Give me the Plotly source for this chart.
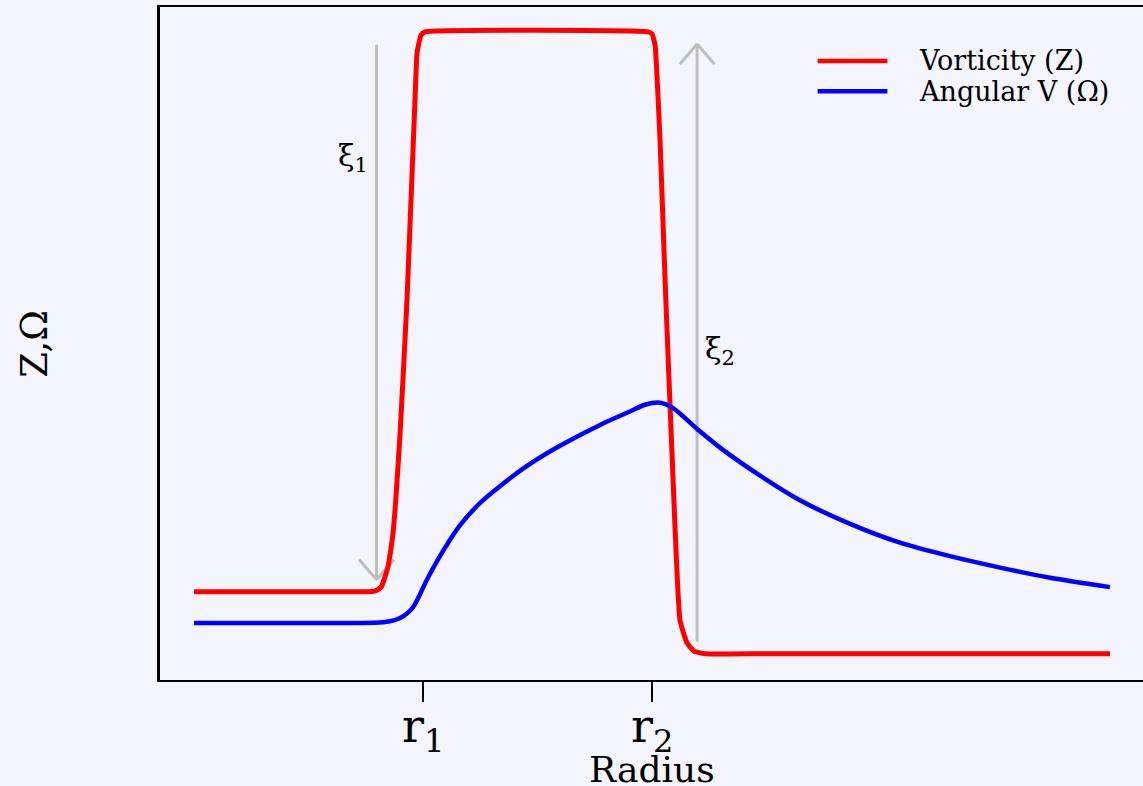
import plotly.graph_objects as go

# Vorticity profile Z(r): flat core, steep rise at r1, plateau, steep drop at r2
radius_z = [0.0, 0.725, 0.790, 0.817, 0.847, 0.869, 0.900, 0.930, 0.965, 0.974,
            0.991, 1.009, 1.983, 2.000, 2.013, 2.035, 2.057, 2.092, 2.122, 2.153,
            2.183, 2.231, 2.5, 4.0]
vorticity = [0.131, 0.131, 0.132, 0.138, 0.168, 0.218, 0.367, 0.565, 0.862, 0.932,
             0.958, 0.963, 0.963, 0.960, 0.944, 0.802, 0.594, 0.297, 0.089, 0.055,
             0.043, 0.039, 0.039, 0.039]

# Angular velocity profile Omega(r)
radius_w = [0.0, 0.463, 0.834, 0.900, 0.956, 1.017, 1.074, 1.162, 1.249, 1.336,
            1.467, 1.598, 1.773, 1.904, 1.969, 2.035, 2.092, 2.197, 2.310, 2.502,
            2.646, 2.865, 3.083, 3.301, 3.520, 3.738, 4.0]
angular = [0.0847, 0.0847, 0.0862, 0.0921, 0.108, 0.149, 0.184, 0.230, 0.263, 0.288,
           0.321, 0.348, 0.379, 0.399, 0.409, 0.412, 0.404, 0.373, 0.342, 0.297,
           0.267, 0.232, 0.204, 0.184, 0.167, 0.152, 0.138]

tick_vals = [1, 2]
tick_text = ["r<sub>1</sub>", "r<sub>2</sub>"]

series_names = ["Vorticity (Z)", "Angular V (\u03a9)"]
series_colors = ["#FF0000", "#0000FF"]

# Jump arrows: (x, y_start, y_end, label)
jump_arrows = [
    (0.797, 0.944, 0.149, "\u03be<sub>1</sub>"),
    (2.197, 0.057, 0.945, "\u03be<sub>2</sub>"),
]

SERIF = "DejaVu Serif"
BG = "#F4F4FD"
GREY = "#BEBEBE"

fig = go.Figure()
fig.add_trace(go.Scatter(x=radius_z, y=vorticity, mode="lines", name=series_names[0],
                         line=dict(color=series_colors[0], width=5, shape="spline",
                                   smoothing=0.4),
                         showlegend=False))
fig.add_trace(go.Scatter(x=radius_w, y=angular, mode="lines", name=series_names[1],
                         line=dict(color=series_colors[1], width=4.5, shape="spline",
                                   smoothing=0.8),
                         showlegend=False))

shapes = []
annotations = []
arm_dx, arm_dy = 0.076, 0.030
for ax, y0, y1, label in jump_arrows:
    line_style = dict(color=GREY, width=3)
    shapes.append(dict(type="line", xref="x", yref="y", x0=ax, x1=ax, y0=y0, y1=y1,
                       line=line_style, layer="below"))
    back = arm_dy if y1 < y0 else -arm_dy
    for sgn in (-1, 1):
        shapes.append(dict(type="line", xref="x", yref="y", x0=ax, y0=y1,
                           x1=ax + sgn * arm_dx, y1=y1 + back,
                           line=line_style, layer="below"))

# ξ labels beside the arrows
annotations.append(dict(x=jump_arrows[0][0] - 0.03, y=0.776, xref="x", yref="y",
                        text=jump_arrows[0][3], showarrow=False, xanchor="right",
                        yanchor="middle", font=dict(family=SERIF, size=30, color="black")))
annotations.append(dict(x=jump_arrows[1][0] + 0.025, y=0.49, xref="x", yref="y",
                        text=jump_arrows[1][3], showarrow=False, xanchor="left",
                        yanchor="middle", font=dict(family=SERIF, size=30, color="black")))

# Hand-drawn legend in the upper right corner
legend_rows = [0.9198, 0.875]
for name, color, ly in zip(series_names, series_colors, legend_rows):
    shapes.append(dict(type="line", xref="paper", yref="paper", x0=0.669, x1=0.740,
                       y0=ly, y1=ly, line=dict(color=color, width=4.5)))
    annotations.append(dict(x=0.7706, y=ly, xref="paper", yref="paper", text=name,
                            showarrow=False, xanchor="left", yanchor="middle",
                            font=dict(family=SERIF, size=27, color="black")))

# Radius tick labels (r1, r2) set just under the tick marks
for tv, tt in zip(tick_vals, tick_text):
    annotations.append(dict(x=tv, y=-0.027, xref="x", yref="paper", text=tt,
                            showarrow=False, xanchor="center", yanchor="top",
                            borderpad=0,
                            font=dict(family=SERIF, size=46, color="black")))

# Axis titles
annotations.append(dict(x=0.5, y=-0.1645, xref="paper", yref="paper", text="Radius",
                        showarrow=False, xanchor="center", yanchor="bottom",
                        borderpad=0,
                        font=dict(family=SERIF, size=36, color="black")))
annotations.append(dict(x=-0.128, y=0.5, xref="paper", yref="paper", text="Z,\u03a9",
                        showarrow=False, xanchor="center", yanchor="middle",
                        textangle=-90,
                        font=dict(family=SERIF, size=37, color="black")))

fig.update_layout(
    width=1143, height=786,
    margin=dict(l=160, r=0, t=7, b=106),
    paper_bgcolor=BG, plot_bgcolor=BG,
    shapes=shapes, annotations=annotations,
    showlegend=False,
    xaxis=dict(range=[-0.1485, 4.144], showgrid=False, zeroline=False,
               automargin=False,
               showline=True, linecolor="black", linewidth=2, mirror=True,
               tickmode="array", tickvals=tick_vals, showticklabels=False,
               ticks="outside", ticklen=20, tickwidth=2, tickcolor="black"),
    yaxis=dict(range=[0, 1], showgrid=False, zeroline=False,
               automargin=False,
               showline=True, linecolor="black", linewidth=3, mirror=False,
               showticklabels=False, ticks=""),
)

fig.write_html("out.html")
